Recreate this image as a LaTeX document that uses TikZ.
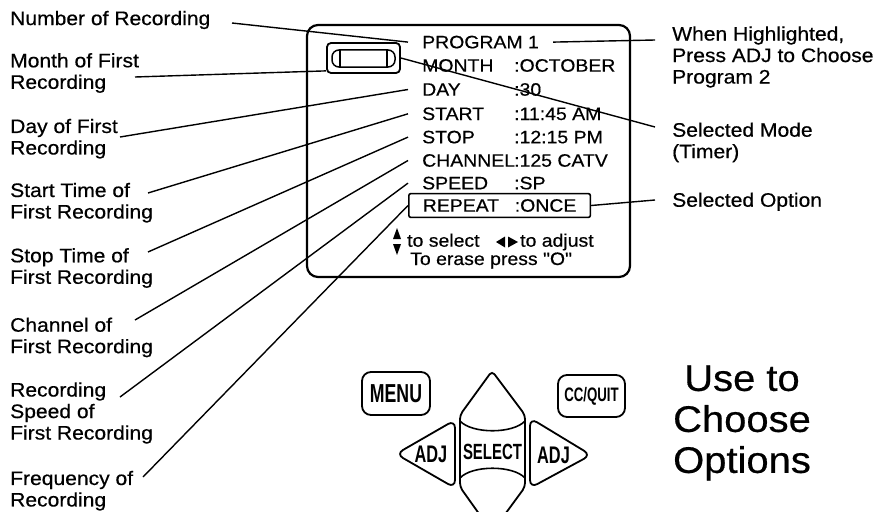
\documentclass[tikz,border=0pt]{standalone}
\usepackage{fontspec}
\setmainfont{Liberation Sans}[FakeStretch=1.08, FakeBold=0.5]
\newfontfamily\keyfont{Liberation Sans}[FakeStretch=0.68]
\usepackage{tikz}

\newcommand{\field}[2]{\makebox[92pt][l]{#1}#2}

\begin{document}
\begin{tikzpicture}[x=1pt, y=-1pt,
    lbl/.style = {anchor=west, inner sep=0pt, align=left, font=\fontsize{19.5}{21.5}\selectfont},
    row/.style = {anchor=base west, inner xsep=14pt, inner ysep=5.5pt, font=\fontsize{18}{20}\selectfont},
    lead/.style = {line width=1.4pt},
    key/.style = {draw, line width=1.8pt, rounded corners=9pt, inner sep=0pt}]
    \clip (0,0) rectangle (882,511);

    % screen
    \draw[line width=2.2pt, rounded corners=11pt] (307,25) rectangle (630,277);
    \node[draw, line width=1.8pt, rounded corners=4pt, minimum width=73pt, minimum height=30pt, inner sep=0pt] (tape) at (363.5,58) {};
    \draw[line width=1.5pt, rounded corners=7pt] (332,50) rectangle (395,67);
    \draw[line width=1.5pt] (340,50) -- (340,67) (387,50) -- (387,67);

    \node[row] (prog) at (408,48.3) {PROGRAM 1};
    \node[row] (month) at (408,71.7) {\field{MONTH}{:OCTOBER}};
    \node[row] (day) at (408,95.7) {\field{DAY}{:30}};
    \node[row] (start) at (408,120) {\field{START}{:11:45 AM}};
    \node[row] (stop) at (408,143.3) {\field{STOP}{:12:15 PM}};
    \node[row] (chan) at (408,166.7) {\field{CHANNEL}{:125 CATV}};
    \node[row] (speed) at (408,189.3) {\field{SPEED}{:SP}};
    \node[row, draw, line width=1.6pt, rounded corners=2pt] (repeat) at (408,211.7) {\field{REPEAT}{:ONCE}};

    \node[row, inner xsep=0pt] (sel) at (407,246.7) {to select};
    \node[row, inner xsep=0pt] (adj) at (520,246.7) {to adjust};
    \node[row, inner xsep=0pt] (erase) at (410,265) {\addfontfeatures{Ligatures=TeXOff}To erase press "O"};
    \fill (393,239) -- (397,228) -- (401,239) -- cycle;
    \fill (393,244) -- (397,255) -- (401,244) -- cycle;
    \fill (496,242) -- (505,236.5) -- (505,247.5) -- cycle;
    \fill (508,236.5) -- (518,242) -- (508,247.5) -- cycle;

    % labels left
    \node[lbl] (numrec) at (10,20) {Number of Recording};
    \node[lbl] (monthlbl) at (10,73) {Month of First\\Recording};
    \node[lbl] (daylbl) at (10,138.7) {Day of First\\Recording};
    \node[lbl] (startlbl) at (10,202.7) {Start Time of\\First Recording};
    \node[lbl] (stoplbl) at (10,268) {Stop Time of\\First Recording};
    \node[lbl] (chanlbl) at (10,337.4) {Channel of\\First Recording};
    \node[lbl] (speedlbl) at (10,413) {Recording\\Speed of\\First Recording};
    \node[lbl] (freqlbl) at (10,490.7) {Frequency of\\Recording};

    \coordinate (numrec-tip) at (232,23);
    \coordinate (month-tip) at (135,77);
    \coordinate (day-tip) at (120,137);
    \coordinate (start-tip) at (148,193);
    \coordinate (stop-tip) at (148,252);
    \coordinate (chan-tip) at (135,320);
    \coordinate (speed-tip) at (120,397);
    \coordinate (freq-tip) at (143,477);

    \draw[lead] (numrec-tip) -- (prog.west);
    \draw[lead] (month-tip) -- (tape.199);
    \draw[lead] (day-tip) -- (day.west);
    \draw[lead] (start-tip) -- (start.west);
    \draw[lead] (stop-tip) -- (stop.west);
    \draw[lead] (chan-tip) -- (chan.west);
    \draw[lead] (speed-tip) -- (speed.west);
    \draw[lead] (freq-tip) -- (repeat.west);

    % labels right
    \node[lbl] (hilite) at (672,57) {When Highlighted,\\Press ADJ to Choose\\Program 2};
    \node[lbl] (modelbl) at (672,142.4) {Selected Mode\\(Timer)};
    \node[lbl] (optlbl) at (672,201.7) {Selected Option};

    \coordinate (hilite-tip) at (655,40);
    \coordinate (mode-tip) at (655,127);
    \coordinate (opt-tip) at (655,200);

    \draw[lead] (prog.east) -- (hilite-tip);
    \draw[lead] (tape.east) -- (mode-tip);
    \draw[lead] (repeat.east) -- (opt-tip);

    % remote keys
    \node[key, minimum width=68pt, minimum height=43pt, font=\keyfont\bfseries\fontsize{26}{26}\selectfont] (menu) at (396,393.5) {MENU};
    \node[key, minimum width=67pt, minimum height=42pt, font=\keyfont\bfseries\fontsize{19.5}{20}\selectfont] (ccquit) at (591.5,396) {CC/QUIT};

    \draw[line width=1.8pt, rounded corners=4pt] (460,415) -- (492,371) -- (525,415) -- (525,487) -- (492,532) -- (460,487) -- cycle;
    \draw[line width=1.6pt] (460,421) .. controls (472,434) and (513,434) .. (525,421);
    \draw[line width=1.6pt] (460,478) .. controls (472,465) and (513,465) .. (525,478);
    \node[font=\keyfont\bfseries\fontsize{22}{22}\selectfont, inner sep=0pt] (select) at (492.5,452) {SELECT};

    \draw[line width=1.8pt, rounded corners=8pt] (455,420) -- (455,488) -- (396,454) -- cycle;
    \node[font=\keyfont\bfseries\fontsize{24}{24}\selectfont, inner sep=0pt] (adjl) at (431,454) {ADJ};
    \draw[line width=1.8pt, rounded corners=8pt] (530,418) -- (591,455) -- (530,488) -- cycle;
    \node[font=\keyfont\bfseries\fontsize{24}{24}\selectfont, inner sep=0pt] (adjr) at (553.5,455) {ADJ};

    \node[align=center, inner sep=0pt, font=\fontsize{37}{41}\selectfont] (usetxt) at (742,423) {Use to\\Choose\\Options};
\end{tikzpicture}
\end{document}
